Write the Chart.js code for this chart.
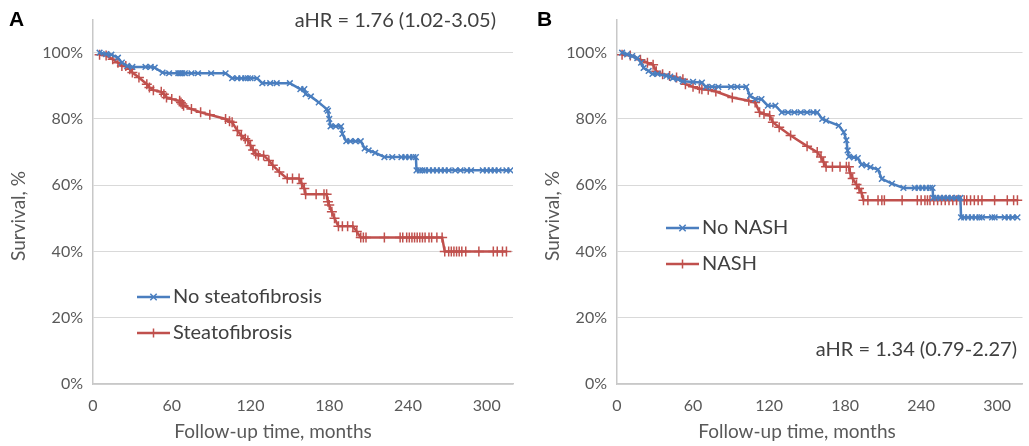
<!DOCTYPE html>
<html>
<head>
<meta charset="utf-8">
<script src="https://cdn.jsdelivr.net/npm/chart.js@4.4.0/dist/chart.umd.min.js"></script>
<style>
  html, body { margin: 0; padding: 0; background: #fff; }
  #wrapA { position: absolute; left: 0; top: 0; width: 520px; height: 446px; }
  #wrapB { position: absolute; left: 524px; top: 0; width: 505px; height: 446px; }
</style>
</head>
<body>
<div id="wrapA"><canvas id="chartA"></canvas></div>
<div id="wrapB"><canvas id="chartB"></canvas></div>
<script>
// tick labels
const xTickValues = [0, 60, 120, 180, 240, 300];
const yTickValues = [0, 20, 40, 60, 80, 100];

// Panel A - no steatofibrosis (months, survival %)
const monthsNoSteato = [5, 10, 14, 19, 22, 26, 30, 40, 44, 47, 53, 58, 65, 66, 67, 68, 70, 75, 80, 90, 101,
  106, 110, 113, 116, 118, 120, 125, 129, 135, 140, 150, 158, 161, 162, 166, 172, 178, 179, 180, 181, 185, 189,
  190, 193, 196, 200, 204, 207, 210, 215, 222, 228, 235, 238, 241, 244, 246, 246.5, 249, 251, 253, 256, 259,
  262, 265, 268, 271, 276, 280, 285, 288, 297, 300, 303, 306, 309, 315, 318];
const survNoSteato = [100, 99.6, 99.4, 98.5, 97, 96, 95.7, 95.7, 95.7, 95.5, 94, 93.8, 93.8, 93.8, 93.8, 93.8, 93.8, 93.8, 93.8, 93.8, 93.8,
  92.3, 92.3, 92.3, 92.3, 92.3, 92.3, 92.3, 90.8, 90.8, 90.8, 90.8, 89, 89, 87.5, 86.8, 85, 83, 82.5, 80, 77.8, 77.8, 77.8,
  75.5, 73.3, 73.3, 73.3, 73.3, 71.1, 70.5, 69.8, 68.5, 68.5, 68.5, 68.5, 68.5, 68.5, 68.5, 64.5, 64.5, 64.5, 64.5, 64.5, 64.5,
  64.5, 64.5, 64.5, 64.5, 64.5, 64.5, 64.5, 64.5, 64.5, 64.5, 64.5, 64.5, 64.5, 64.5, 64.5];

// Panel A - steatofibrosis
const monthsSteato = [5, 10, 15, 19, 22, 25, 28, 30, 35, 41, 43, 46, 52, 54, 56, 60, 66, 67, 68, 69, 75, 82, 89,
  101, 104, 106, 110, 113, 116, 118, 120, 122, 124, 126, 130, 134, 137, 142, 148, 152, 157, 159, 161, 162, 170,
  176, 178, 179, 180, 182, 184, 187, 190, 194, 198, 201, 204, 206, 208, 222, 234, 236, 239, 241, 243, 245, 247,
  249, 251, 253, 256, 258, 262, 266, 268, 271, 273, 275, 277, 279, 281, 284, 294, 305, 308, 312, 315];
const survSteato = [99.4, 99.2, 98, 97, 96, 96, 95, 94, 92.5, 90.5, 89.5, 88.7, 88.2, 87.5, 86.5, 86, 85.5, 85, 84.5, 84, 83, 82, 81.3,
  80, 79.3, 79, 76.5, 75, 74, 73.5, 72, 70.6, 69.5, 69, 69, 67.5, 66, 64, 62, 62, 62, 60.5, 59, 57.3, 57.3,
  57.3, 57.3, 55, 54, 52, 50, 47.6, 47.6, 47.6, 47.6, 46, 44.2, 44.2, 44.2, 44.2, 44.2, 44.2, 44.2, 44.2, 44.2, 44.2, 44.2,
  44.2, 44.2, 44.2, 44.2, 44.2, 44.2, 44.2, 40, 40, 40, 40, 40, 40, 40, 40, 40, 40, 40, 40, 40];

// Panel B - no NASH
const monthsNoNash = [4, 8, 12, 16, 19, 21, 25, 28, 32, 39, 42, 44, 48, 52, 60, 67, 70, 75, 80, 90, 95, 102,
  105, 109, 114, 119, 125, 130, 135, 140, 145, 150, 155, 158, 162, 165, 175, 179, 181, 182, 183, 187, 190, 193,
  197, 200, 206, 209, 217, 226, 235, 238, 241, 244, 247, 249, 249.5, 252, 255, 258, 261, 264, 268, 271, 271.5, 274,
  277, 280, 283, 286, 288, 296, 298, 306, 309, 312, 316];
const survNoNash = [100, 99.5, 99, 98.4, 97, 95.4, 94.5, 93.6, 93.6, 93, 92.8, 92.3, 92, 91.4, 91.2, 91, 89.7, 89.7, 89.7, 89.7, 89.7, 89.7,
  87, 86, 86, 84, 84, 82, 82, 82, 82, 82, 82, 82, 80, 79.5, 78, 76, 73.6, 70.5, 68.6, 68.4, 68.2, 66.2,
  66, 65.5, 64.7, 61.9, 60.5, 59.2, 59.2, 59.2, 59.2, 59.2, 59.2, 59.2, 56.2, 56.2, 56.2, 56.2, 56.2, 56.2, 56.2, 56.2, 50.3, 50.3,
  50.3, 50.3, 50.3, 50.3, 50.3, 50.3, 50.3, 50.3, 50.3, 50.3, 50.3];

// Panel B - NASH
const monthsNash = [4, 10.5, 18.5, 24, 28.5, 31, 36, 41.5, 47, 52, 54, 60, 65, 67, 72, 78, 91, 104, 109, 112.5,
  116, 120.5, 123, 128, 137, 150, 158, 161, 163, 165, 170, 176, 181, 183, 184, 186, 189, 191, 193, 194.5, 198,
  206, 209, 211, 225, 237, 240, 243, 245, 247, 250, 253, 256, 259, 262, 265, 268, 271, 274, 276, 279, 282, 285,
  288, 298, 308, 313, 316];
const survNash = [99.4, 99.2, 97.9, 97, 96.4, 94.4, 93.5, 93, 92.5, 92, 90.5, 89.7, 89.2, 89, 88.8, 88.3, 86.5, 85.5, 85, 82,
  81.5, 81, 79, 77.5, 75, 71.8, 70, 68.5, 67, 65.6, 65.6, 65.6, 65.6, 65.6, 63.7, 62, 60.2, 59, 57.7, 55.5, 55.5,
  55.5, 55.5, 55.5, 55.5, 55.5, 55.5, 55.5, 55.5, 55.5, 55.5, 55.5, 55.5, 55.5, 55.5, 55.5, 55.5, 55.5, 55.5, 55.5, 55.5, 55.5, 55.5,
  55.5, 55.5, 55.5, 55.5, 55.5];

const BLUE = '#4a7ebf';
const RED = '#c0504d';
const FONT = 'Lato';

function toPoints(xs, ys) {
  return xs.map((x, i) => ({ x: x, y: ys[i] }));
}

const panelText = {
  id: 'panelText',
  afterDraw(chart, args, opts) {
    const ctx = chart.ctx;
    const area = chart.chartArea;
    ctx.save();

    // panel letter
    ctx.fillStyle = '#000';
    ctx.font = 'bold 21px Arial';
    ctx.textBaseline = 'middle';
    ctx.textAlign = 'left';
    ctx.fillText(opts.letter, opts.letterX, 20);

    // axis titles
    ctx.fillStyle = '#595959';
    ctx.font = '19px ' + FONT;
    ctx.textAlign = 'center';
    ctx.fillText('Follow-up time, months', area.left + 180, 432);
    ctx.save();
    ctx.translate(opts.yTitleX, 216);
    ctx.rotate(-Math.PI / 2);
    ctx.fillText('Survival, %', 0, 0);
    ctx.restore();

    // aHR
    ctx.fillStyle = '#404040';
    ctx.font = '20px ' + FONT;
    ctx.textAlign = 'right';
    ctx.fillText(opts.hr, opts.hrX, opts.hrY);

    // legend
    const items = [
      { label: opts.labels[0], color: BLUE, style: 'crossRot', y: opts.legendY },
      { label: opts.labels[1], color: RED, style: 'cross', y: opts.legendY + 36 }
    ];
    items.forEach((it) => {
      const x0 = opts.legendX, x1 = opts.legendX + 33;
      ctx.strokeStyle = it.color;
      ctx.lineWidth = 2.5;
      ctx.beginPath();
      ctx.moveTo(x0, it.y);
      ctx.lineTo(x1, it.y);
      ctx.stroke();
      ctx.lineWidth = 1.5;
      Chart.helpers.drawPoint(ctx, { pointStyle: it.style, radius: 4.5, borderWidth: 1.5 }, (x0 + x1) / 2, it.y);
      ctx.fillStyle = '#404040';
      ctx.font = '20px ' + FONT;
      ctx.textAlign = 'left';
      ctx.fillText(it.label, x1 + 3, it.y);
    });
    ctx.restore();
  }
};

function makeChart(id, blueX, blueY, redX, redY, rightPad, textOpts) {
  const ctx = document.getElementById(id).getContext('2d');
  return new Chart(ctx, {
    type: 'line',
    data: {
      datasets: [
        {
          data: toPoints(blueX, blueY),
          borderColor: BLUE,
          backgroundColor: BLUE,
          borderWidth: 2.5,
          pointStyle: 'crossRot',
          pointRadius: 4,
          pointBorderWidth: 1.5,
          pointBorderColor: BLUE,
          tension: 0
        },
        {
          data: toPoints(redX, redY),
          borderColor: RED,
          backgroundColor: RED,
          borderWidth: 2.5,
          pointStyle: 'cross',
          pointRadius: 5,
          pointBorderWidth: 1.5,
          pointBorderColor: RED,
          tension: 0
        }
      ]
    },
    options: {
      responsive: true,
      maintainAspectRatio: false,
      animation: false,
      layout: {
        padding: { top: 14, right: rightPad, left: 0, bottom: 0 }
      },
      scales: {
        x: {
          type: 'linear',
          min: 0,
          max: 320,
          afterBuildTicks: (scale) => {
            scale.ticks = xTickValues.map((v) => ({ value: v }));
          },
          afterFit: (scale) => { scale.height = 62; },
          grid: { display: false },
          border: { display: true, color: '#c8c8c8', width: 1.5 },
          ticks: {
            color: '#595959',
            font: { family: FONT, size: 16 },
            padding: 4,
            maxRotation: 0
          }
        },
        y: {
          type: 'linear',
          min: 0,
          max: 110,
          afterBuildTicks: (scale) => {
            scale.ticks = yTickValues.map((v) => ({ value: v }));
          },
          afterFit: (scale) => { scale.width = 93; },
          grid: { color: '#d9d9d9', lineWidth: 1, drawTicks: false },
          border: { display: true, color: '#c8c8c8', width: 1.5 },
          ticks: {
            color: '#595959',
            font: { family: FONT, size: 16 },
            padding: 10,
            callback: (v) => v + '%'
          }
        }
      },
      plugins: {
        legend: { display: false },
        tooltip: { enabled: false },
        panelText: textOpts
      }
    },
    plugins: [panelText]
  });
}

makeChart('chartA', monthsNoSteato, survNoSteato, monthsSteato, survSteato, 7, {
  letter: 'A', letterX: 9, yTitleX: 19,
  hr: 'aHR = 1.76 (1.02-3.05)', hrX: 496, hrY: 21,
  labels: ['No steatofibrosis', 'Steatofibrosis'],
  legendX: 137, legendY: 297
});

makeChart('chartB', monthsNoNash, survNoNash, monthsNash, survNash, 0, {
  letter: 'B', letterX: 13, yTitleX: 29,
  hr: 'aHR = 1.34 (0.79-2.27)', hrX: 493, hrY: 350,
  labels: ['No NASH', 'NASH'],
  legendX: 142, legendY: 228
});
</script>
</body>
</html>
